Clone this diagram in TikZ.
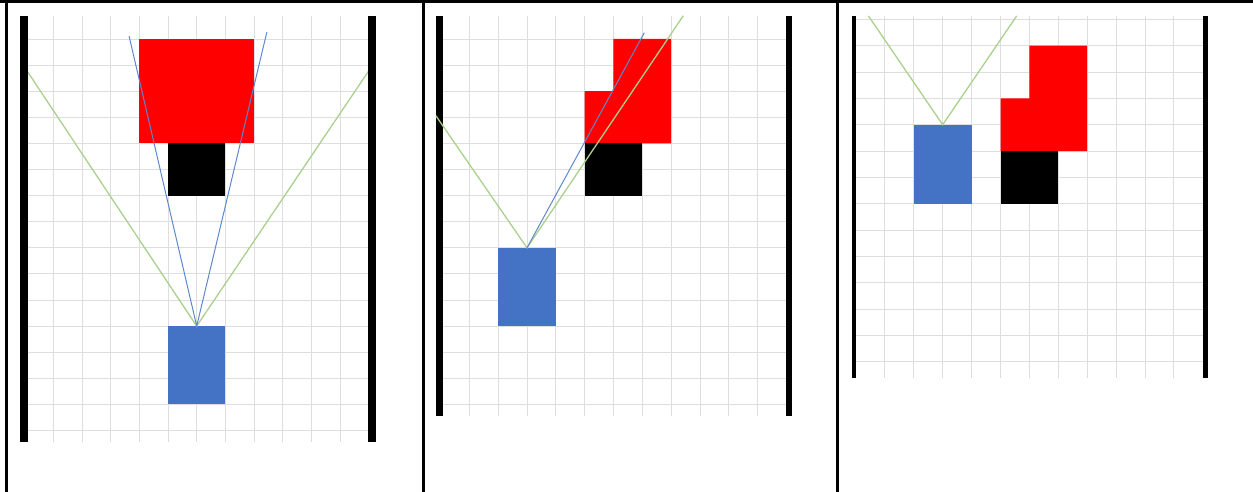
\documentclass[tikz,border=0pt]{standalone}
\usepackage{tikz}
\usepackage{xcolor}
\definecolor{boxblue}{HTML}{4472C4}
\definecolor{fovgreen}{HTML}{A9D18E}
\definecolor{gridgray}{HTML}{DEDEDE}

\begin{document}
\begin{tikzpicture}[x=0.5pt,y=-0.5pt,
    gridln/.style={gridgray,line width=0.45pt},
    fov/.style={fovgreen,line width=0.65pt},
    ray/.style={boxblue!85,line width=0.5pt}]
  \useasboundingbox (0,0) rectangle (1253,492);
  % table rules
  \fill (0,0) rectangle (1253,3);
  \fill (5,0) rectangle (8,492);
  \fill (422,0) rectangle (425,492);
  \fill (836,0) rectangle (839,492);

  % panel 1: head-on
  \begin{scope}[shift={(24.8,39)},x=14.325pt,y=-13.05pt]
    \foreach \i in {1,...,11}{ \draw[gridln] (\i,-0.88) -- (\i,15.44); }
    \foreach \j in {0,...,15}{ \draw[gridln] (0.11,\j) -- (12,\j); }
    \fill[red] (4,0) rectangle (8,4);
    \fill (5,4) rectangle (7,6);
    \fill[boxblue] (5,11) rectangle (7,14);
    \coordinate (cam1) at (6,11);
    \coordinate (fovl1) at (0.1,1.26);
    \coordinate (fovr1) at (12,1.23);
    \coordinate (rayl1) at (3.64,-0.11);
    \coordinate (rayr1) at (8.45,-0.27);
    \draw[fov] (fovl1) -- (cam1) -- (fovr1);
    \draw[ray] (rayl1) -- (cam1) -- (rayr1);
    \fill (-0.17,-0.88) rectangle (0.11,15.44);
    \fill (11.98,-0.88) rectangle (12.26,15.44);
  \end{scope}

  % panel 2: offset to the left
  \begin{scope}[shift={(440.5,39)},x=14.415pt,y=-13.05pt]
    \foreach \i in {1,...,11}{ \draw[gridln] (\i,-0.88) -- (\i,14.44); }
    \foreach \j in {0,...,14}{ \draw[gridln] (0,\j) -- (12,\j); }
    \fill[red] (5,2) -- (6,2) -- (6,0) -- (8,0) -- (8,4) -- (5,4) -- cycle;
    \fill (5,4) rectangle (7,6);
    \fill[boxblue] (2,8) rectangle (4,11);
    \fill (-0.16,-0.88) rectangle (0.08,14.44);
    \fill (12,-0.88) rectangle (12.18,14.44);
    \coordinate (cam2) at (3,8);
    \coordinate (fovl2) at (-0.16,2.94);
    \coordinate (fovr2) at (8.42,-0.89);
    \coordinate (ray2) at (7.07,-0.24);
    \draw[fov] (fovl2) -- (cam2) -- (fovr2);
    \draw[ray] (cam2) -- (ray2);
  \end{scope}

  % panel 3: side by side
  \begin{scope}[shift={(856,45.7)},x=14.45pt,y=-13.175pt]
    \foreach \i in {1,...,11}{ \draw[gridln] (\i,-1.13) -- (\i,12.6); }
    \foreach \j in {-1,...,12}{ \draw[gridln] (0,\j) -- (12,\j); }
    \fill[red] (5,2) -- (6,2) -- (6,0) -- (8,0) -- (8,4) -- (5,4) -- cycle;
    \fill (5,4) rectangle (7,6);
    \fill[boxblue] (2,3) rectangle (4,6);
    \coordinate (cam3) at (3,3);
    \coordinate (fovl3) at (0.43,-1.13);
    \coordinate (fovr3) at (5.56,-1.13);
    \draw[fov] (fovl3) -- (cam3) -- (fovr3);
    \fill (-0.14,-1.13) rectangle (0,12.6);
    \fill (12,-1.13) rectangle (12.17,12.6);
  \end{scope}
\end{tikzpicture}
\end{document}
